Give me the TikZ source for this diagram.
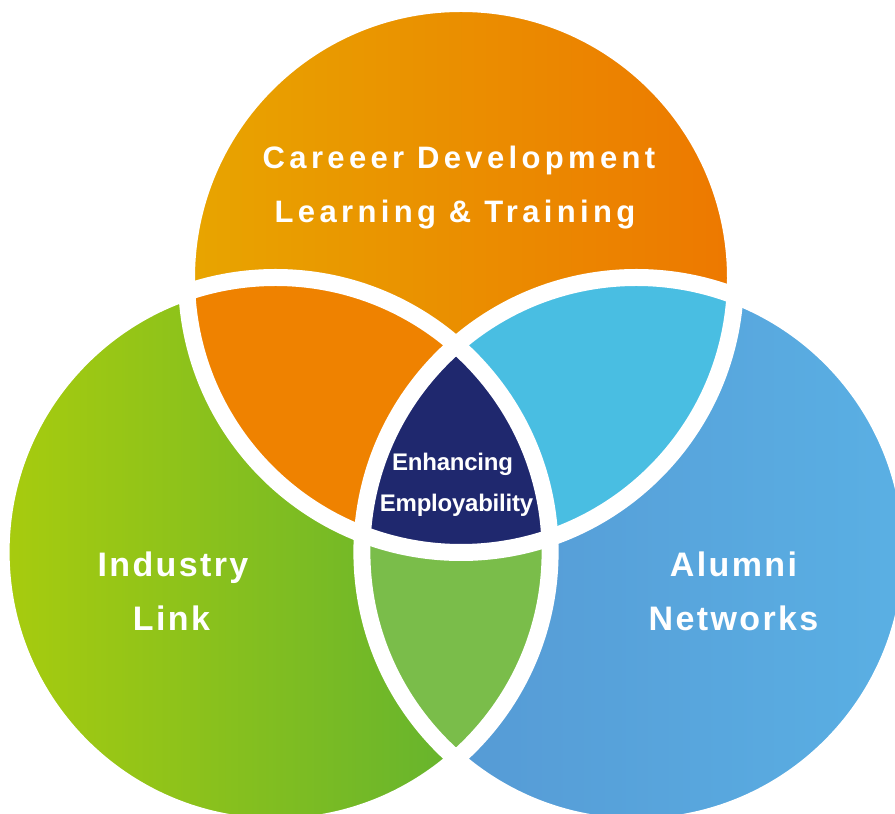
\documentclass[tikz,border=0pt]{standalone}
\usepackage{fontspec}
\setmainfont{Liberation Sans}
\newfontfamily\fTop{Liberation Sans}[LetterSpace=14]
\newfontfamily\fSide{Liberation Sans}[LetterSpace=7]
\newfontfamily\fMid{Liberation Sans}[LetterSpace=-1]
\definecolor{topL}{RGB}{232,165,0}
\definecolor{topR}{RGB}{237,120,0}
\definecolor{leftL}{RGB}{168,204,14}
\definecolor{leftR}{RGB}{88,175,52}
\definecolor{rightL}{RGB}{85,150,210}
\definecolor{rightR}{RGB}{90,176,228}
\definecolor{lensTL}{RGB}{239,130,0}
\definecolor{lensTR}{RGB}{73,190,226}
\definecolor{lensLR}{RGB}{122,189,74}
\definecolor{core}{RGB}{31,40,110}
\tikzset{
  lbl/.style={text=white, anchor=base, inner sep=0pt},
  gap/.style={draw=white, line width=17pt}
}
\begin{document}
\begin{tikzpicture}[x=1pt,y=1pt]
\useasboundingbox (0,0) rectangle (895,814);
\def\R{274.5pt}
\coordinate (cT) at (461,536);
\coordinate (cL) at (275.6,262);
\coordinate (cR) at (636.4,262);
\begin{scope}
\clip (0,0) rectangle (895,814);
\shade[left color=topL, right color=topR] (cT) circle (\R);
\shade[left color=leftL, right color=leftR] (cL) circle (\R);
\shade[left color=rightL, right color=rightR] (cR) circle (\R);
\begin{scope}\clip (cT) circle (\R); \fill[lensTL] (cL) circle (\R); \end{scope}
\begin{scope}\clip (cT) circle (\R); \fill[lensTR] (cR) circle (\R); \end{scope}
\begin{scope}\clip (cL) circle (\R); \fill[lensLR] (cR) circle (\R); \end{scope}
\begin{scope}\clip (cT) circle (\R); \clip (cL) circle (\R); \fill[core] (cR) circle (\R); \end{scope}
\draw[gap] (cT) circle (\R);
\draw[gap] (cL) circle (\R);
\draw[gap] (cR) circle (\R);
\end{scope}
\node[lbl, font=\fTop\bfseries\fontsize{31}{31}\selectfont] (t1) at (459,645) {Careeer Development};
\node[lbl, font=\fTop\bfseries\fontsize{31}{31}\selectfont] (t2) at (455,591) {Learning \& Training};
\node[lbl, font=\fSide\bfseries\fontsize{34}{34}\selectfont] (l1) at (173,237) {Industry};
\node[lbl, font=\fSide\bfseries\fontsize{34}{34}\selectfont] (l2) at (171.5,183) {Link};
\node[lbl, font=\fSide\bfseries\fontsize{34}{34}\selectfont] (r1) at (733.5,237) {Alumni};
\node[lbl, font=\fSide\bfseries\fontsize{34}{34}\selectfont] (r2) at (733.5,183) {Networks};
\node[lbl, font=\fMid\bfseries\fontsize{24}{24}\selectfont] (c1) at (452.5,343) {Enhancing};
\node[lbl, font=\fMid\bfseries\fontsize{24}{24}\selectfont] (c2) at (456.5,302) {Employability};
\end{tikzpicture}
\end{document}
